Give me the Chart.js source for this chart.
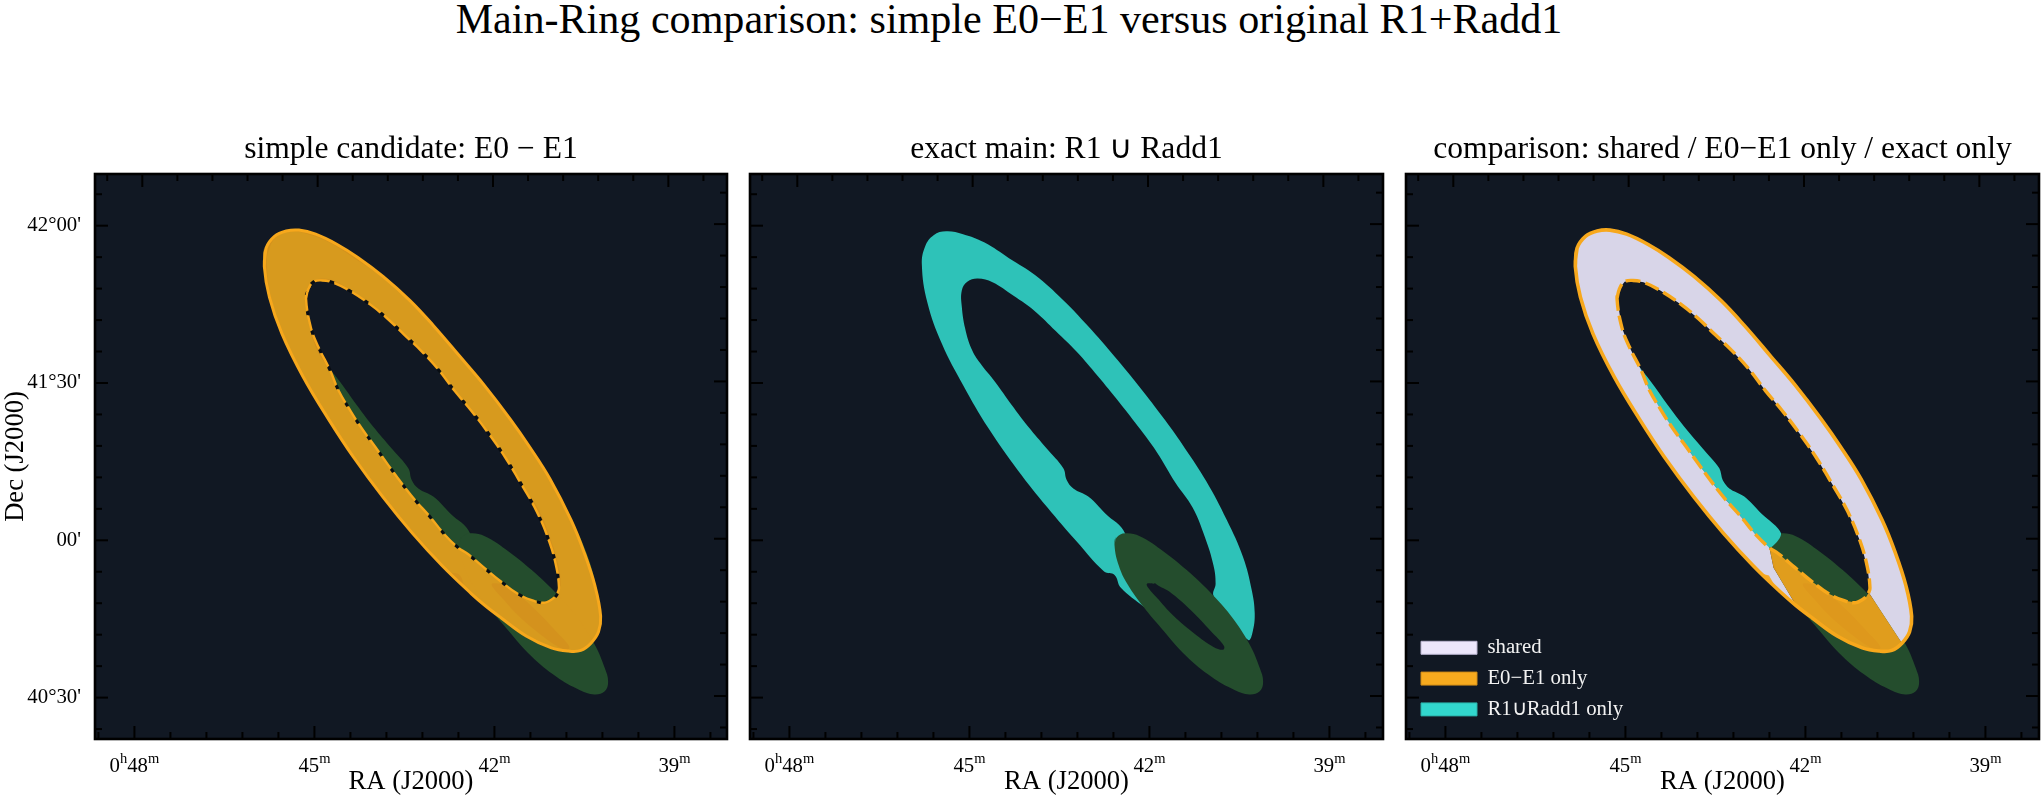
<!DOCTYPE html>
<html>
<head>
<meta charset="utf-8">
<title>Main-Ring comparison</title>
<script src="https://cdn.jsdelivr.net/npm/chart.js@4"></script>
<style>
  html, body { margin: 0; padding: 0; background: #fff; }
  body { width: 2044px; height: 801px; position: relative; overflow: hidden; font-family: "Liberation Serif", serif; }
  #suptitle { position: absolute; left: 0; top: -3px; width: 2018px; text-align: center; font-size: 42.1px; line-height: 44px; color: #000; white-space: nowrap; }
  .panel { position: absolute; top: 120px; height: 681px; }
  canvas { display: block; }
</style>
</head>
<body>
<div id="suptitle">Main-Ring comparison: simple E0−E1 versus original R1+Radd1</div>
<div class="panel" style="left:0;width:740px"><canvas id="p1"></canvas></div>
<div class="panel" style="left:740px;width:660px"><canvas id="p2"></canvas></div>
<div class="panel" style="left:1396px;width:648px"><canvas id="p3"></canvas></div>
<script>
// tick values (RA in minutes of 0h, Dec in degrees)
const raMajor = [48, 45, 42, 39];
const raLabels = [['0', 'h', '48', 'm'], ['45', 'm'], ['42', 'm'], ['39', 'm']];
const raMinor = [48.6, 47.4, 46.8, 46.2, 45.6, 44.4, 43.8, 43.2, 42.6, 41.4, 40.8, 40.2, 39.6, 38.4];
const decMajor = [42, 41.5, 41, 40.5];
const decLabels = ["42°00'", "41°30'", "00'", "40°30'"];
const decMinor = [42.1, 41.9, 41.8, 41.7, 41.6, 41.4, 41.3, 41.2, 41.1, 40.9, 40.8, 40.7, 40.6, 40.4];

// E0 outer edge, clockwise
const raE0 = [45.835, 45.807, 45.666, 45.470, 45.259, 44.979, 44.628, 44.277, 43.852, 43.407, 43.019, 42.574, 42.174, 41.740, 41.407, 41.074, 40.724, 40.507, 40.324, 40.230, 40.265, 40.391, 40.560, 40.770, 41.051, 41.471, 41.892, 42.152, 42.383, 42.874, 43.365, 43.857, 44.348, 44.768, 45.189, 45.540, 45.750];
const decE0 = [41.871, 41.928, 41.966, 41.983, 41.986, 41.973, 41.941, 41.899, 41.838, 41.762, 41.683, 41.584, 41.494, 41.386, 41.295, 41.195, 41.065, 40.963, 40.855, 40.759, 40.709, 40.673, 40.650, 40.648, 40.658, 40.696, 40.754, 40.792, 40.830, 40.920, 41.022, 41.137, 41.264, 41.386, 41.520, 41.656, 41.773];

// E1 inner edge, clockwise
const raE1 = [45.140, 45.098, 45.014, 44.874, 44.698, 44.418, 44.067, 43.786, 43.506, 43.225, 42.945, 42.664, 42.383, 42.103, 41.822, 41.542, 41.296, 41.086, 40.966, 40.924, 40.945, 40.981, 41.156, 41.366, 41.612, 41.892, 42.173, 42.454, 42.600, 42.824, 43.074, 43.324, 43.545, 43.769, 43.990, 44.212, 44.407, 44.602, 44.740, 44.935, 45.057];
const decE1 = [41.769, 41.800, 41.822, 41.826, 41.820, 41.794, 41.749, 41.705, 41.654, 41.603, 41.545, 41.475, 41.411, 41.341, 41.264, 41.175, 41.092, 40.996, 40.913, 40.849, 40.834, 40.821, 40.802, 40.809, 40.830, 40.869, 40.913, 40.958, 40.976, 41.017, 41.075, 41.128, 41.181, 41.239, 41.298, 41.356, 41.414, 41.478, 41.541, 41.615, 41.675];

// exact main R1 u Radd1, a C shape whose open end sits under the green ring
const raExact = [42.090, 42.476, 42.581, 42.756, 43.212, 43.703, 44.194, 44.685, 45.107, 45.457, 45.702, 45.793, 45.737, 45.597, 45.387, 45.106, 44.755, 44.334, 43.907, 43.440, 43.024, 42.574, 42.174, 41.740, 41.407, 41.057, 40.712, 40.440, 40.295, 40.245, 40.279, 40.352, 40.687, 40.932, 40.897, 40.932, 41.073, 41.283, 41.564, 41.879, 42.195, 42.510, 42.862, 43.212, 43.562, 43.914, 44.264, 44.615, 44.860, 45.036, 45.127, 45.127, 45.071, 44.966, 44.825, 44.574, 44.295, 44.019, 43.712, 43.435, 43.379, 43.269, 43.019, 42.740, 42.407, 42.335];
const decExact = [40.788, 40.849, 40.890, 40.901, 40.996, 41.105, 41.223, 41.357, 41.494, 41.624, 41.757, 41.877, 41.935, 41.970, 41.982, 41.973, 41.947, 41.896, 41.843, 41.764, 41.681, 41.583, 41.490, 41.382, 41.292, 41.189, 41.065, 40.947, 40.842, 40.768, 40.709, 40.683, 40.760, 40.824, 40.862, 40.920, 41.009, 41.105, 41.182, 41.281, 41.363, 41.440, 41.522, 41.599, 41.665, 41.729, 41.777, 41.820, 41.832, 41.822, 41.794, 41.743, 41.673, 41.609, 41.564, 41.504, 41.430, 41.361, 41.292, 41.229, 41.192, 41.165, 41.139, 41.086, 41.022, 40.901];

// the green secondary ring
const raGreen = [42.581, 42.546, 42.405, 42.160, 41.809, 41.388, 40.932, 40.617, 40.336, 40.161, 40.105, 40.161, 40.336, 40.582, 40.967, 41.388, 41.809, 42.090, 42.370, 42.511];
const decGreen = [40.983, 41.009, 41.022, 41.013, 40.971, 40.907, 40.824, 40.754, 40.671, 40.594, 40.550, 40.520, 40.510, 40.524, 40.566, 40.632, 40.722, 40.786, 40.862, 40.920];
const raGreenHole = [42.041, 41.914, 41.669, 41.318, 40.967, 40.757, 40.771, 40.932, 41.248, 41.599, 41.879, 42.020];
const decGreenHole = [40.862, 40.865, 40.837, 40.779, 40.709, 40.664, 40.652, 40.661, 40.703, 40.760, 40.818, 40.849];

// bits that only the comparison panel needs
const raSplit = [42.531];
const decSplit = [40.913];
const raSliver = [42.720, 42.608, 42.482, 42.594];
const decSliver = [40.894, 40.888, 40.847, 40.865];

const legendNames = ['shared', 'E0−E1 only', 'R1∪Radd1 only'];
const legendFill = ['#ece6fb', '#f7aa1e', '#32d7cd'];
const legendEdge = ['#b9b3cf', '#d08c18', '#2ab0a8'];

const SERIF = '"Liberation Serif", serif';
const BG = '#111823', GREEN = '#244d2d', ORANGE = '#f7a81c';

function pts(ra, dec) { return ra.map((x, i) => ({ x: x, y: dec[i] })); }

const e0 = pts(raE0, decE0), e1 = pts(raE1, decE1), exact = pts(raExact, decExact);
const greenOut = pts(raGreen, decGreen), greenIn = pts(raGreenHole, decGreenHole);
const split = pts(raSplit, decSplit), sliver = pts(raSliver, decSliver);

// outer loop + bridge + inner loop backwards, so the hole stays empty with a nonzero fill
function ring(outer, inner) {
    return [...outer, outer[0], outer[1], inner[1], inner[0], ...inner.slice(2).reverse(), inner[1], outer[1], outer[0]];
}

const ringE = ring(e0, e1);
const ringGreen = ring(greenOut, greenIn);
const tealOnly = [...exact.slice(54, 65), ...e1.slice(28, 39)];
const shared = [...e0.slice(27), ...e0.slice(0, 22), ...e1.slice(0, 21).reverse(), ...e1.slice(28).reverse(), ...split];
const orangeOnly = [...e1.slice(20, 29), ...split, ...e0.slice(21, 28).reverse()];
const closedE0 = [...e0, e0[0], e0[1]];
const closedE1 = [...e1, e1[0], e1[1]];

function area(points, color, tension) {
    return { data: points, showLine: true, fill: 'shape', backgroundColor: color, borderWidth: 0, pointRadius: 0, tension: tension === undefined ? 0.4 : tension };
}
function stroke(points, width, dash, color, offset) {
    return { data: points, showLine: true, fill: false, borderColor: color || ORANGE, borderWidth: width, borderDash: dash || [], borderDashOffset: offset || 0, borderJoinStyle: 'round', pointRadius: 0, tension: 0.4 };
}

// frame, inward ticks on all four sides and the RA labels with their superscripts
const framePlugin = {
    id: 'framePlugin',
    beforeDraw(chart) {
        const a = chart.chartArea, ctx = chart.ctx;
        ctx.save();
        ctx.fillStyle = BG;
        ctx.fillRect(a.left, a.top, a.right - a.left, a.bottom - a.top);
        ctx.restore();
    },
    afterLayout(chart) {
        const l = chart.legend;
        if (l && chart.options.plugins.legend.display) {
            l.left = chart.chartArea.left + 5;
            l.right = l.left + l.width;
            l.top = 507.4;
            l.bottom = l.top + l.height;
        }
    },
    afterDatasetsDraw(chart) {
        const a = chart.chartArea, ctx = chart.ctx, s = chart.scales;
        ctx.save();
        ctx.strokeStyle = '#000';
        ctx.lineWidth = 2;
        const vert = (scale, vals, y0, len) => vals.forEach(v => {
            const p = scale.getPixelForValue(v);
            ctx.beginPath(); ctx.moveTo(p, y0); ctx.lineTo(p, y0 + len); ctx.stroke();
        });
        const horz = (scale, vals, x0, len) => vals.forEach(v => {
            const p = scale.getPixelForValue(v);
            ctx.beginPath(); ctx.moveTo(x0, p); ctx.lineTo(x0 + len, p); ctx.stroke();
        });
        vert(s.x, raMajor, a.bottom, -13); vert(s.x, raMinor, a.bottom, -7);
        vert(s.xTop, raMajor, a.top, 13); vert(s.xTop, raMinor, a.top, 7);
        horz(s.y, decMajor, a.left, 13); horz(s.y, decMinor, a.left, 7);
        horz(s.yRight, decMajor, a.right, -13); horz(s.yRight, decMinor, a.right, -7);
        ctx.lineWidth = 2.6;
        ctx.strokeRect(a.left, a.top, a.right - a.left, a.bottom - a.top);

        // RA labels, odd pieces are raised and smaller
        ctx.fillStyle = '#000';
        ctx.textBaseline = 'alphabetic';
        ctx.textAlign = 'left';
        raMajor.forEach((v, i) => {
            const parts = raLabels[i];
            const fontOf = k => (k % 2 ? '14.5px ' : '20.8px ') + SERIF;
            let w = 0;
            parts.forEach((t, k) => { ctx.font = fontOf(k); w += ctx.measureText(t).width; });
            let x = s.x.getPixelForValue(v) - w / 2;
            parts.forEach((t, k) => {
                ctx.font = fontOf(k);
                ctx.fillText(t, x, a.bottom + 32.7 - (k % 2 ? 8.5 : 0));
                x += ctx.measureText(t).width;
            });
        });
        ctx.restore();
    }
};

function makePanel(id, w, padL, padR, plotW, layers, opts) {
    const cv = document.getElementById(id);
    cv.width = w; cv.height = 681;
    cv.style.width = w + 'px'; cv.style.height = '681px';
    const raLeft = 48.657, decTop = 42.1643, decBottom = 40.3684;
    return new Chart(cv, {
        type: 'scatter',
        data: { datasets: layers.slice().reverse() },   // first dataset ends up on top in Chart.js
        plugins: [framePlugin],
        options: {
            responsive: false,
            animation: false,
            devicePixelRatio: 1,
            layout: { padding: { left: padL, right: padR, top: 0, bottom: 0 } },
            plugins: {
                tooltip: { enabled: false },
                title: {
                    display: true, text: opts.title, fullSize: false, color: '#000',
                    font: { family: SERIF, size: 31.6, weight: 'normal', lineHeight: 1.2 },
                    padding: { top: 11, bottom: 5.08 }
                },
                legend: opts.legend ? {
                    display: true, position: 'chartArea', align: 'start',
                    labels: {
                        boxWidth: 56, boxHeight: 13, padding: 10, color: '#f2f2f2',
                        font: { family: SERIF, size: 20.8 },
                        generateLabels: () => legendNames.map((t, i) => ({
                            text: t, fillStyle: legendFill[i], strokeStyle: legendEdge[i], fontColor: '#f2f2f2', lineWidth: 1, hidden: false, datasetIndex: i
                        }))
                    }
                } : { display: false }
            },
            scales: {
                x: {
                    type: 'linear', position: 'bottom', reverse: true,
                    min: raLeft - plotW / 60, max: raLeft,
                    grid: { display: false }, border: { display: false },
                    ticks: { display: false },
                    afterFit: s => { s.height = 62; },
                    title: { display: true, text: 'RA (J2000)', color: '#000', font: { family: SERIF, size: 26.6, lineHeight: 1.2 }, padding: { top: 0, bottom: 3 } }
                },
                xTop: {
                    type: 'linear', position: 'top', reverse: true, display: false,
                    min: 48 - (plotW - 47.3) / 58.45, max: 48 + 47.3 / 58.45
                },
                y: {
                    type: 'linear', position: 'left', min: decBottom, max: decTop,
                    display: opts.yAxis,
                    grid: { display: false, drawTicks: false }, border: { display: false },
                    afterBuildTicks: s => { s.ticks = decMajor.map(v => ({ value: v })); },
                    afterFit: s => { s.width = padL ? 0 : 95; },
                    ticks: {
                        autoSkip: false, padding: 14, color: '#000', maxRotation: 0,
                        font: { family: SERIF, size: 20.8 },
                        callback: (v, i) => decLabels[i]
                    },
                    title: { display: true, text: 'Dec (J2000)', color: '#000', font: { family: SERIF, size: 26.6, lineHeight: 1.2 }, padding: { top: 0, bottom: 0 } }
                },
                yRight: {
                    type: 'linear', position: 'right', display: false,
                    min: decBottom - 0.005, max: decTop - 0.005
                }
            }
        }
    });
}

makePanel('p1', 740, 0, 13, 632, [
    area(exact, GREEN),
    area(ringGreen, GREEN),
    area(ringE, 'rgba(245,166,28,0.86)'),
    stroke(closedE0, 3),
    stroke(closedE1, 3, [4, 16], '#090d13', -15.5),
    stroke(closedE1, 2.4, [15, 5])
], { title: 'simple candidate: E0 − E1', yAxis: true, legend: false });

makePanel('p2', 660, 10, 17, 633, [
    area(exact, '#2ec2b8'),
    area(ringGreen, GREEN)
], { title: 'exact main: R1 ∪ Radd1', yAxis: false, legend: false });

makePanel('p3', 648, 10, 5, 633, [
    area(ringGreen, GREEN),
    area(tealOnly, '#2ec8bc', 0.3),
    area(shared, '#d8d5e8', 0),
    area(orangeOnly, 'rgba(245,166,28,0.9)', 0),
    area(sliver, 'rgba(245,166,28,0.9)', 0),
    stroke(closedE0, 3.6),
    stroke(closedE1, 3.4, [15, 5])
], { title: 'comparison: shared / E0−E1 only / exact only', yAxis: false, legend: true });
</script>
</body>
</html>
